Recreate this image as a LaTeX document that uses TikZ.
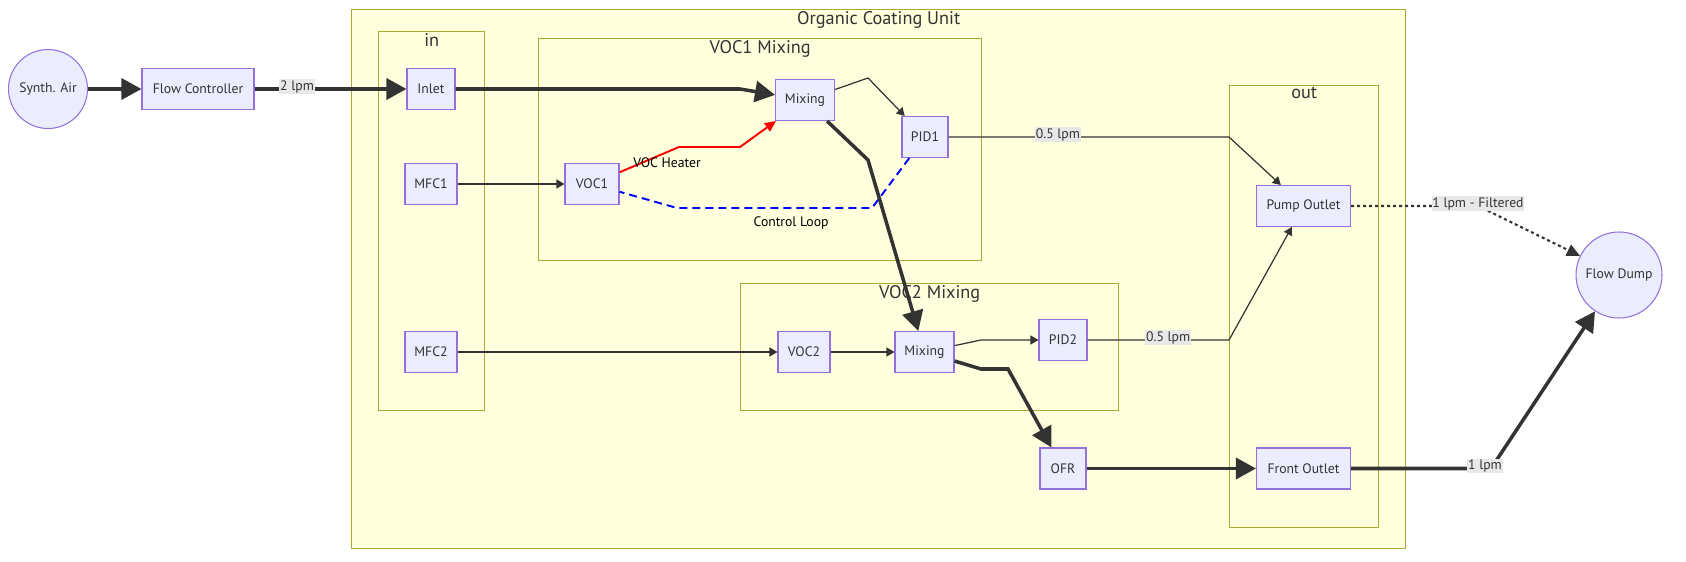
\documentclass[tikz,border=0pt]{standalone}
\usepackage{fontspec}
\setmainfont{PT Sans}
\usetikzlibrary{arrows.meta, positioning}
\definecolor{nodeFill}{HTML}{ECECFF}
\definecolor{nodeLine}{HTML}{9370DB}
\definecolor{groupFill}{HTML}{FFFFDE}
\definecolor{groupLine}{HTML}{AAAA33}
\definecolor{edgeGrey}{HTML}{333333}
\definecolor{labelGrey}{HTML}{E8E8E8}

\begin{document}
\begin{tikzpicture}[node distance=1cm, on grid]
    \tikzset{
        box/.style={rectangle, draw=nodeLine, fill=nodeFill, line width=0.6pt, text=edgeGrey, minimum height=0.82cm, inner sep=0pt, font=\fontsize{7.8}{9}\selectfont},
        source/.style={circle, draw=nodeLine, fill=nodeFill, line width=0.6pt, text=edgeGrey, inner sep=0pt, font=\fontsize{7.8}{9}\selectfont},
        cluster/.style={rectangle, draw=groupLine, fill=groupFill, line width=0.8pt, anchor=north west, inner sep=0pt},
        clustertitle/.style={anchor=north, inner sep=1pt, text=edgeGrey, font=\fontsize{10.4}{12}\selectfont},
        flow/.style={draw=edgeGrey, line width=0.7pt, -{Triangle[length=0.16cm, width=0.18cm]}},
        mainflow/.style={draw=edgeGrey, line width=2pt, -{Triangle[length=0.4cm, width=0.42cm]}},
        heater/.style={draw=red, line width=1.1pt, -{Triangle[length=0.22cm, width=0.2cm]}},
        ctrlloop/.style={draw=blue, line width=1.1pt, dash pattern=on 0.16cm off 0.1cm},
        filtered/.style={draw=edgeGrey, line width=1.2pt, dash pattern=on 0.06cm off 0.06cm, -{Triangle[length=0.26cm, width=0.24cm]}},
        lbl/.style={fill=labelGrey, text=edgeGrey, inner sep=0.5pt, yshift=0.05cm, font=\fontsize{7.8}{9}\selectfont},
        edgenote/.style={text=black, inner sep=0pt, font=\fontsize{7.8}{9}\selectfont}
    }
    \useasboundingbox (0,0) rectangle (33.72,-11.24);

    % subgraphs
    \node [cluster, minimum width=21.08cm, minimum height=10.78cm] (unit) at (7.02,-0.18) {};
    \node [clustertitle] (unittitle) at (unit.north) {Organic Coating Unit};
    \node [cluster, minimum width=2.12cm, minimum height=7.58cm] (incl) at (7.56,-0.62) {};
    \node [clustertitle] (incltitle) at (incl.north) {in};
    \node [cluster, minimum width=8.86cm, minimum height=4.44cm] (mixone) at (10.76,-0.76) {};
    \node [clustertitle] (mixonetitle) at (mixone.north) {VOC1 Mixing};
    \node [cluster, minimum width=7.56cm, minimum height=2.54cm] (mixtwo) at (14.80,-5.66) {};
    \node [clustertitle] (mixtwotitle) at (mixtwo.north) {VOC2 Mixing};
    \node [cluster, minimum width=2.98cm, minimum height=8.84cm] (outcl) at (24.58,-1.70) {};
    \node [clustertitle] (outcltitle) at (outcl.north) {out};

    % nodes
    \node [source, minimum size=1.58cm] (sair) at (0.96,-1.78) {Synth. Air};
    \node [box, minimum width=2.24cm, right=3.0cm of sair] (fc) {Flow Controller};
    \node [box, minimum width=0.96cm, right=4.66cm of fc] (inlet) {Inlet};
    \node [box, minimum width=1.04cm, below=1.90cm of inlet] (mfc1) {MFC1};
    \node [box, minimum width=1.04cm, below=3.36cm of mfc1] (mfc2) {MFC2};
    \node [box, minimum width=1.08cm, right=3.22cm of mfc1] (voc1) {VOC1};
    \node [box, minimum width=1.18cm, above right=1.68cm and 4.26cm of voc1] (mix1) {Mixing};
    \node [box, minimum width=0.92cm, below right=0.74cm and 2.40cm of mix1] (pid1) {PID1};
    \node [box, minimum width=1.04cm, right=7.46cm of mfc2] (voc2) {VOC2};
    \node [box, minimum width=1.18cm, right=2.41cm of voc2] (mix2) {Mixing};
    \node [box, minimum width=0.96cm, above right=0.24cm and 2.77cm of mix2] (pid2) {PID2};
    \node [box, minimum width=0.92cm, below=2.57cm of pid2] (ofr) {OFR};
    \node [box, minimum width=1.88cm, right=4.81cm of ofr] (front) {Front Outlet};
    \node [box, minimum width=1.88cm, above=5.25cm of front] (pump) {Pump Outlet};
    \node [source, minimum size=1.72cm, below right=1.38cm and 6.31cm of pump] (dump) {Flow Dump};

    % connectors
    \draw [mainflow] (sair) -- (fc);
    \draw [mainflow] (fc) -- node[lbl, pos=0.28]{2 lpm} (inlet);
    \draw [mainflow] (inlet) -- (14.80,-1.78) -- (mix1);
    \draw [flow] (mfc1) -- (voc1);
    \draw [heater] (voc1) -- node[edgenote, pos=0.8, yshift=-0.22cm]{VOC Heater} (13.58,-2.94) -- (14.80,-2.94) -- (mix1);
    \draw [flow] (mix1) -- (17.36,-1.56) -- (pid1);
    \draw [ctrlloop] (pid1) -- (17.44,-4.16) -- node[edgenote, pos=0.415, yshift=-0.30cm]{Control Loop} (13.54,-4.16) -- (voc1);
    \draw [mainflow] (mix1) -- (17.36,-3.20) -- (mix2);
    \draw [flow] (mfc2) -- (voc2);
    \draw [flow] (voc2) -- (mix2);
    \draw [flow] (mix2) -- (19.62,-6.80) -- (pid2);
    \draw [mainflow] (mix2) -- (19.62,-7.38) -- (20.16,-7.38) -- (ofr);
    \draw [flow] (pid1) -- node[lbl, pos=0.39]{0.5 lpm} (24.58,-2.74) -- (pump);
    \draw [flow] (pid2) -- node[lbl, pos=0.57]{0.5 lpm} (24.58,-6.80) -- (pump);
    \draw [mainflow] (ofr) -- (front);
    \draw [filtered] (pump) -- (29.56,-4.12) node[lbl]{1 lpm - Filtered} -- (dump);
    \draw [mainflow] (front) -- node[lbl, pos=0.957]{1 lpm} (29.82,-9.37) -- (dump);
\end{tikzpicture}
\end{document}
